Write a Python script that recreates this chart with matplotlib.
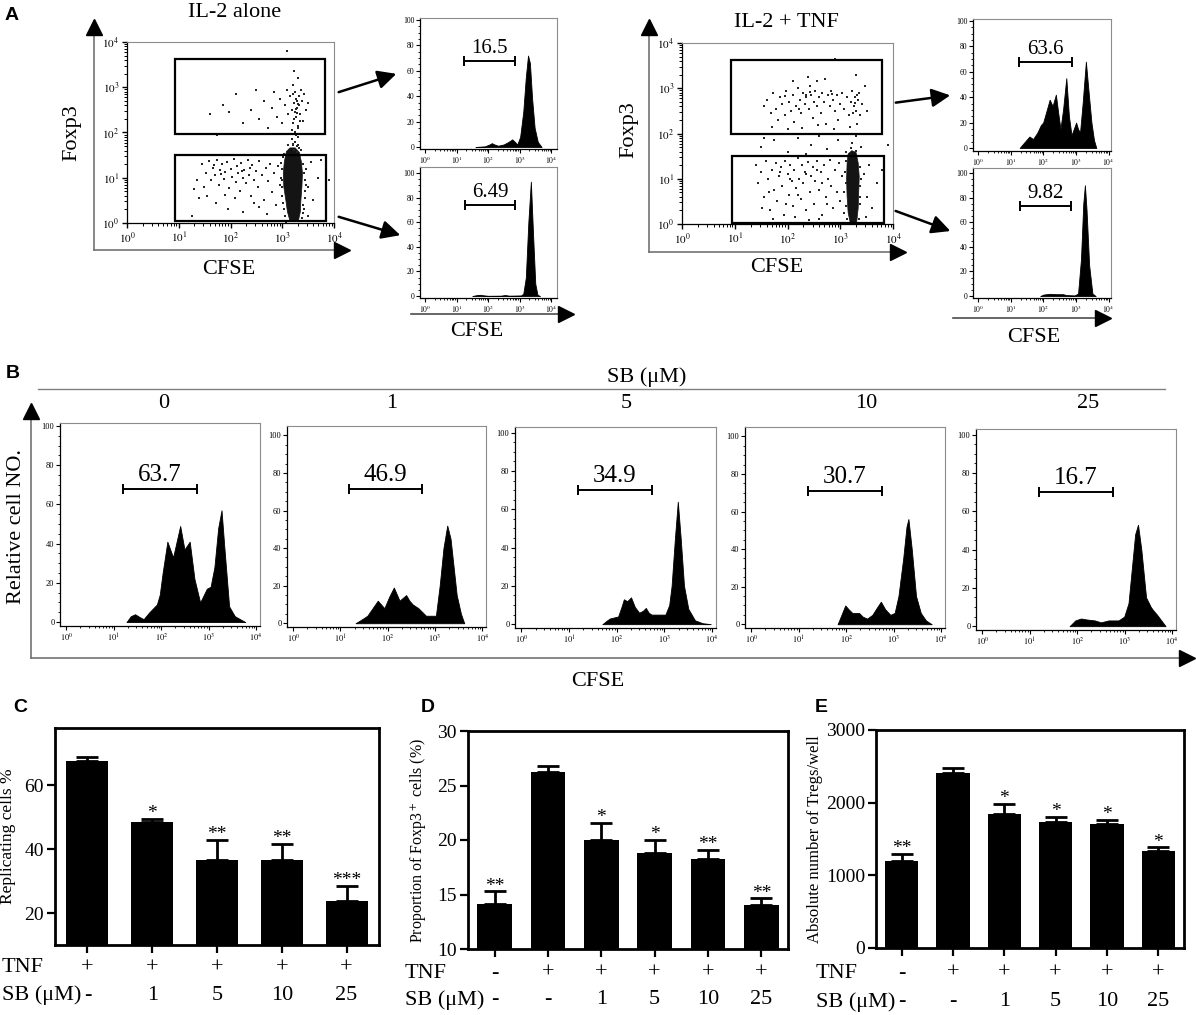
import numpy as np
import matplotlib.pyplot as plt
from matplotlib import transforms
from matplotlib.patches import Rectangle

plt.rcParams['font.family'] = ['Liberation Serif', 'DejaVu Serif']
plt.rcParams['mathtext.fontset'] = 'stix'

# ---------------- data ----------------
# panel A, scatter plots (log10 CFSE, log10 Foxp3)
gates_left = [(0.93, 3.83, 1.96, 3.62), (0.93, 3.85, 0.04, 1.50)]
gates_right = [(0.93, 3.80, 1.98, 3.63), (0.95, 3.82, 0.03, 1.50)]

dense_left = [(3.08, 1.58), (3.15, 1.66), (3.25, 1.66), (3.33, 1.56), (3.37, 1.35), (3.39, 1.10),
              (3.38, 0.80), (3.36, 0.50), (3.35, 0.25), (3.31, 0.04), (3.15, 0.04), (3.10, 0.25),
              (3.07, 0.50), (3.03, 0.80), (3.02, 1.10), (3.04, 1.35)]
dense_right = [(3.15, 1.55), (3.22, 1.62), (3.30, 1.58), (3.34, 1.35), (3.36, 1.05), (3.35, 0.70),
               (3.34, 0.35), (3.31, 0.03), (3.19, 0.02), (3.15, 0.25), (3.13, 0.60), (3.12, 1.00),
               (3.13, 1.35)]

dots_left = [
    (1.86, 2.60), (1.98, 2.45), (2.10, 2.85), (2.25, 2.20), (2.40, 2.50), (2.50, 2.95), (2.55, 2.30),
    (2.65, 2.70), (2.72, 2.10), (2.80, 2.55), (2.85, 2.90), (2.90, 2.35), (2.95, 2.75), (3.00, 2.20),
    (3.05, 2.60), (3.10, 2.95), (3.12, 2.40), (3.15, 2.80), (3.18, 2.50), (3.20, 2.20), (3.20, 3.05),
    (3.22, 2.65), (3.24, 2.45), (3.25, 2.90), (3.26, 2.35), (3.28, 2.70), (3.28, 2.55), (3.30, 2.15),
    (3.30, 3.20), (3.32, 2.80), (3.33, 2.60), (3.35, 2.40), (3.36, 2.95), (3.38, 2.70), (3.40, 2.25),
    (3.42, 2.85), (3.45, 2.50), (3.50, 2.65), (3.18, 2.05), (3.25, 2.00), (3.30, 2.10), (3.22, 3.35),
    (3.27, 2.52), (3.31, 2.62), (3.26, 2.75), (3.23, 2.30), (3.29, 2.42), (3.21, 2.85), (3.34, 2.25),
    (3.22, 1.62), (3.28, 1.70), (3.25, 1.80), (3.30, 1.90), (3.20, 1.75), (3.26, 1.95), (3.32, 1.65),
    (3.18, 1.85), (3.29, 1.58), (3.10, 3.80), (1.74, 1.94), (1.60, 2.40),
    (1.45, 1.30), (1.52, 1.10), (1.58, 1.38), (1.62, 0.95), (1.66, 1.22), (1.70, 1.05), (1.74, 1.40),
    (1.78, 0.85), (1.80, 1.18), (1.84, 1.30), (1.88, 0.98), (1.90, 1.12), (1.94, 1.35), (1.97, 0.78),
    (2.00, 1.20), (2.03, 1.02), (2.06, 1.42), (2.10, 0.90), (2.12, 1.25), (2.15, 1.10), (2.18, 0.70),
    (2.20, 1.33), (2.24, 1.00), (2.27, 1.18), (2.30, 0.88), (2.33, 1.40), (2.36, 1.07), (2.40, 0.60),
    (2.42, 1.28), (2.46, 0.95), (2.50, 1.15), (2.53, 0.80), (2.56, 1.36), (2.60, 1.05), (2.64, 0.50),
    (2.68, 1.22), (2.72, 0.92), (2.76, 1.30), (2.80, 0.68), (2.84, 1.10), (2.88, 0.40), (2.92, 1.25),
    (2.95, 0.85), (2.98, 1.00), (1.30, 0.75), (1.40, 0.55), (1.55, 0.60), (1.72, 0.45), (1.95, 0.30),
    (2.25, 0.25), (2.55, 0.35), (1.35, 0.95), (1.48, 0.80), (2.08, 0.55), (2.70, 0.20), (1.25, 0.15),
    (1.90, 0.62), (2.45, 0.45), (1.68, 1.28), (1.82, 1.08), (2.22, 1.15), (2.38, 1.22),
    (3.45, 1.20), (3.50, 0.80), (3.55, 1.35), (3.60, 0.50), (3.70, 1.00), (3.75, 1.40), (3.42, 0.30),
    (3.50, 0.15), (3.90, 0.95),
    (2.99, 1.20), (3.00, 0.80), (3.02, 0.45), (3.01, 1.45), (3.06, 0.15), (3.42, 1.10), (3.43, 0.70),
    (3.41, 0.40), (3.40, 1.50), (3.38, 0.10), (3.12, 1.72), (3.30, 1.72), (2.97, 1.00), (3.44, 0.95),
    (2.99, 0.60), (3.41, 1.30), (3.08, 0.02), (3.36, 1.62), (2.98, 1.32), (3.00, 0.95), (3.44, 0.55),
    (3.45, 0.85), (3.03, 0.30), (3.40, 0.22), (3.20, 1.72), (3.04, 1.52)]

dots_right = [
    (1.55, 2.60), (1.62, 2.75), (1.68, 2.45), (1.72, 2.90), (1.78, 2.55), (1.82, 2.30), (1.86, 2.80),
    (1.90, 2.65), (1.95, 2.40), (1.98, 2.95), (2.02, 2.70), (2.06, 2.50), (2.10, 2.85), (2.13, 2.25),
    (2.16, 2.60), (2.20, 3.00), (2.23, 2.75), (2.26, 2.45), (2.30, 2.90), (2.33, 2.65), (2.36, 2.80),
    (2.40, 2.55), (2.42, 3.05), (2.45, 2.85), (2.48, 2.35), (2.50, 2.70), (2.53, 2.95), (2.56, 2.60),
    (2.60, 2.80), (2.63, 2.45), (2.66, 2.90), (2.70, 2.70), (2.73, 2.20), (2.76, 2.85), (2.80, 2.60),
    (2.83, 2.95), (2.86, 2.75), (2.90, 2.50), (2.93, 2.85), (2.96, 2.30), (3.00, 2.65), (3.04, 2.90),
    (3.08, 2.55), (3.12, 2.80), (3.16, 2.40), (3.20, 2.70), (3.23, 2.95), (3.26, 2.60), (3.28, 2.80),
    (3.30, 2.50), (3.32, 2.20), (3.34, 2.75), (3.36, 2.90), (3.38, 2.40), (3.42, 2.65), (3.46, 3.05),
    (3.50, 2.50), (1.70, 2.15), (2.00, 2.10), (2.28, 2.12), (2.58, 2.18), (2.88, 2.10), (3.18, 2.15),
    (2.38, 3.25), (2.72, 3.20), (3.30, 3.30), (2.10, 3.15), (2.55, 3.15), (2.90, 3.65), (2.35, 2.85),
    (2.42, 2.92), (2.85, 2.88), (3.28, 2.68), (3.31, 2.85), (3.25, 2.45), (1.95, 2.82), (2.22, 2.55),
    (1.50, 1.70), (1.75, 1.85), (2.00, 1.60), (2.20, 1.90), (2.45, 1.75), (2.60, 1.95), (2.75, 1.65),
    (2.95, 1.85), (3.10, 1.60), (3.22, 1.80), (3.30, 1.95), (3.40, 1.70), (3.90, 1.75), (2.35, 1.55),
    (1.55, 1.90),
    (1.40, 1.30), (1.45, 0.90), (1.50, 1.15), (1.55, 0.60), (1.60, 1.40), (1.63, 1.00), (1.67, 0.30),
    (1.70, 1.20), (1.74, 0.75), (1.78, 1.35), (1.80, 0.50), (1.84, 1.05), (1.87, 1.25), (1.90, 0.85),
    (1.93, 0.20), (1.96, 1.40), (2.00, 1.10), (2.02, 0.65), (2.05, 1.30), (2.08, 0.95), (2.10, 0.40),
    (2.13, 1.20), (2.16, 0.80), (2.19, 1.45), (2.22, 1.00), (2.25, 0.55), (2.28, 1.30), (2.30, 0.90),
    (2.33, 1.15), (2.36, 0.30), (2.39, 1.38), (2.42, 0.70), (2.45, 1.05), (2.48, 1.25), (2.50, 0.45),
    (2.53, 0.95), (2.56, 1.40), (2.60, 0.75), (2.63, 1.15), (2.66, 0.20), (2.70, 1.30), (2.73, 0.60),
    (2.76, 1.00), (2.80, 1.42), (2.83, 0.85), (2.86, 0.35), (2.90, 1.20), (2.93, 0.70), (2.97, 1.35),
    (3.00, 0.50), (3.04, 1.05), (3.08, 0.25), (1.52, 0.35), (1.72, 0.12), (2.15, 0.15), (2.60, 0.10),
    (1.98, 0.45), (2.40, 0.08), (1.65, 0.70), (2.20, 0.65), (2.75, 0.45), (2.05, 1.00), (2.35, 1.10),
    (2.65, 0.90), (1.85, 1.15), (2.55, 1.20),
    (3.45, 1.10), (3.50, 0.60), (3.55, 1.30), (3.60, 0.35), (3.70, 0.90), (3.80, 1.20), (3.48, 0.15),
    (3.10, 1.40), (3.10, 0.90), (3.11, 0.40), (3.12, 0.10), (3.37, 1.25), (3.38, 0.85), (3.37, 0.45),
    (3.36, 0.12), (3.20, 1.68), (3.30, 1.62), (3.09, 1.15), (3.39, 1.00), (3.08, 0.70), (3.38, 0.60)]

# panel A, CFSE histograms
a_ul_x = [1.60, 1.90, 2.05, 2.12, 2.20, 2.32, 2.50, 2.65, 2.77, 2.85, 2.93, 3.02, 3.12, 3.20, 3.27,
          3.33, 3.40, 3.48, 3.58, 3.70]
a_ul_y = [0, 0.5, 2, 3, 2, 1, 2, 4, 6, 4, 2, 8, 28, 55, 72, 66, 38, 15, 4, 0]
a_ll_x = [1.50, 1.65, 1.75, 1.85, 2.00, 2.40, 2.54, 2.68, 3.05, 3.12, 3.20, 3.28, 3.36, 3.43, 3.50, 3.57, 3.65]
a_ll_y = [0, 0.8, 1, 0.6, 0.2, 0.3, 0.8, 0.3, 0.5, 2, 15, 60, 93, 50, 10, 1, 0]
a_ur_x = [1.27, 1.40, 1.57, 1.68, 1.81, 1.92, 1.99, 2.08, 2.19, 2.28, 2.38, 2.45, 2.52, 2.60, 2.70,
          2.78, 2.86, 2.93, 3.00, 3.06, 3.12, 3.20, 3.30, 3.38, 3.47, 3.55, 3.62]
a_ur_y = [0, 4, 9, 7, 12, 18, 20, 28, 38, 33, 42, 28, 15, 30, 55, 25, 10, 15, 20, 15, 12, 35, 68, 45,
          20, 6, 0]
a_lr_x = [1.90, 2.00, 2.20, 2.40, 2.60, 2.70, 2.95, 3.06, 3.15, 3.22, 3.27, 3.32, 3.40, 3.50, 3.60]
a_lr_y = [0, 1.2, 1.8, 1.5, 1.5, 0.8, 0.5, 2, 30, 75, 90, 70, 25, 2, 0]
a_gate_vals = ['16.5', '6.49', '63.6', '9.82']
a_gates = [(1.25, 2.87, 68), (1.27, 2.86, 74), (1.24, 2.86, 68), (1.27, 2.84, 73)]

# panel B, SB doses
sb_doses = ['0', '1', '5', '10', '25']
b_x = [
    [1.27, 1.36, 1.45, 1.55, 1.63, 1.75, 1.83, 1.91, 1.97, 2.03, 2.13, 2.25, 2.40, 2.49, 2.60, 2.70,
     2.82, 2.90, 2.96, 3.04, 3.12, 3.20, 3.27, 3.33, 3.43, 3.55, 3.77],
    [1.32, 1.45, 1.57, 1.68, 1.79, 1.86, 1.93, 2.03, 2.13, 2.20, 2.25, 2.39, 2.46, 2.53, 2.65, 2.73,
     2.81, 2.95, 3.02, 3.10, 3.18, 3.26, 3.33, 3.46, 3.55, 3.62],
    [1.70, 1.80, 1.86, 2.03, 2.10, 2.15, 2.22, 2.30, 2.38, 2.47, 2.55, 2.61, 2.67, 2.73, 2.85, 3.02,
     3.10, 3.15, 3.22, 3.28, 3.34, 3.41, 3.50, 3.64, 3.80, 3.97],
    [1.82, 1.90, 1.98, 2.05, 2.13, 2.27, 2.35, 2.44, 2.55, 2.65, 2.73, 2.82, 2.93, 3.02, 3.10, 3.20,
     3.27, 3.31, 3.38, 3.47, 3.57, 3.68, 3.80],
    [1.84, 1.96, 2.08, 2.20, 2.37, 2.50, 2.66, 2.87, 2.99, 3.08, 3.15, 3.22, 3.28, 3.35, 3.45, 3.55,
     3.61, 3.68, 3.74, 3.86]]
b_y = [
    [0, 3, 4, 2.5, 1.5, 5, 7, 9, 14, 25, 41, 33, 49, 37, 41, 22, 10, 14, 17, 18, 28, 48, 57, 38, 8, 3, 0],
    [0, 2, 4, 8, 12, 10, 8, 14, 19, 15, 12, 15, 12, 10, 8, 6, 4, 4, 4, 20, 40, 52, 45, 15, 5, 0],
    [0, 2, 3, 4, 9, 13, 12, 14, 9, 6, 7, 8.5, 6, 5, 5, 5, 10, 20, 45, 64, 45, 20, 8, 2, 0.5, 0],
    [0, 5, 10, 8, 6, 6, 4, 3, 5, 9, 12, 8, 5, 6, 15, 35, 52, 56, 40, 15, 6, 2, 0],
    [0, 3, 4, 3.5, 3, 2, 3, 3, 5, 12, 30, 48, 53, 40, 15, 10, 8, 6, 4, 0]]
b_gate_vals = ['63.7', '46.9', '34.9', '30.7', '16.7']
b_gates = [(1.19, 2.76, 68), (1.18, 2.73, 71.5), (1.18, 2.73, 70), (1.20, 2.75, 71), (1.20, 2.75, 70)]

# panels C-E
c_vals = [67.6, 48.5, 36.5, 36.5, 23.9]
c_err = [1.4, 1.1, 6.5, 5.3, 4.6]
c_stars = ['', '*', '**', '**', '***']
c_tnf = ['+', '+', '+', '+', '+']
c_sb = ['-', '1', '5', '10', '25']

d_vals = [14.1, 26.2, 20.0, 18.8, 18.3, 14.0]
d_err = [1.2, 0.6, 1.6, 1.2, 0.8, 0.65]
d_stars = ['**', '', '*', '*', '**', '**']
e_vals = [1200, 2410, 1845, 1730, 1700, 1340]
e_err = [100, 70, 135, 75, 65, 45]
e_stars = ['**', '', '*', '*', '*', '*']
de_tnf = ['-', '+', '+', '+', '+', '+']
de_sb = ['-', '-', '1', '5', '10', '25']

# ---------------- figure ----------------
W, H = 1196, 1015
fig = plt.figure(figsize=(W / 100, H / 100), dpi=100)

ov = fig.add_axes([0, 0, 1, 1])
ov.set_xlim(0, W)
ov.set_ylim(H, 0)
ov.axis('off')


def px_axes(l, t, r, b):
    return fig.add_axes([l / W, 1 - b / H, (r - l) / W, (b - t) / H])


def log_ticks(ax, axis, fs):
    major = list(range(5))
    minor = [k + np.log10(m) for k in range(4) for m in range(2, 10)]
    labels = ['$10^{%d}$' % k for k in major]
    if axis == 'x':
        ax.set_xticks(major)
        ax.set_xticklabels(labels, fontsize=fs)
        ax.set_xticks(minor, minor=True)
    else:
        ax.set_yticks(major)
        ax.set_yticklabels(labels, fontsize=fs)
        ax.set_yticks(minor, minor=True)


def frame(ax):
    for s in ['top', 'right']:
        ax.spines[s].set_color('0.55')
        ax.spines[s].set_linewidth(0.8)
    for s in ['left', 'bottom']:
        ax.spines[s].set_linewidth(0.9)


def hist_axes(box, xs, ys, gate, label, xlim, ylim, gate_fs, tick_fs):
    ax = px_axes(*box)
    ax.fill_between(xs, ys, color='k', lw=0.6)
    ax.set_xlim(*xlim)
    ax.set_ylim(*ylim)
    x0, x1, gy = gate
    ax.errorbar((x0 + x1) / 2, gy, xerr=(x1 - x0) / 2, fmt='none', ecolor='k',
                elinewidth=1.4, capsize=3.5, capthick=1.4)
    ax.annotate(label, ((x0 + x1) / 2, gy), xytext=(0, 2), textcoords='offset points',
                ha='center', va='bottom', fontsize=gate_fs)
    log_ticks(ax, 'x', tick_fs)
    ax.set_yticks(range(0, 101, 20))
    ax.set_yticklabels([str(v) for v in range(0, 101, 20)], fontsize=tick_fs)
    ax.set_yticks(range(0, 101, 5), minor=True)
    ax.tick_params(length=3, width=0.8, pad=1)
    ax.tick_params(which='minor', length=1.5, width=0.6)
    frame(ax)
    return ax


def scatter_axes(box, dots, dense, gates):
    ax = px_axes(*box)
    ax.fill([p[0] for p in dense], [p[1] for p in dense], color='0.08', lw=0.5)
    ax.scatter([p[0] for p in dots], [p[1] for p in dots], s=2.2, c='0.15', lw=0, marker='s')
    for x0, x1, y0, y1 in gates:
        ax.add_patch(Rectangle((x0, y0), x1 - x0, y1 - y0, fill=False, lw=1.6, ec='k'))
    ax.set_xlim(0, 4)
    ax.set_ylim(0, 4)
    log_ticks(ax, 'x', 8)
    log_ticks(ax, 'y', 8)
    ax.tick_params(length=3.5, width=1, pad=2)
    ax.tick_params(which='minor', length=2, width=0.7)
    frame(ax)
    return ax


def l_axis(x0, y0, x_end, y_top):
    ov.plot([x0, x0], [y0, y_top], color='0.45', lw=1.2)
    ov.plot([x0, x_end], [y0, y0], color='0.45', lw=1.2)
    ov.plot(x0, y_top, marker='^', color='k', ms=12)
    ov.plot(x_end, y0, marker='>', color='k', ms=12)


def h_arrow(x0, x1, y):
    ov.plot([x0, x1], [y, y], color='0.3', lw=1.2)
    ov.plot(x1, y, marker='>', color='k', ms=12)


def gate_arrow(start, end):
    ov.annotate('', xy=end, xytext=start,
                arrowprops=dict(arrowstyle='-|>', color='k', lw=1.8, mutation_scale=28))


def bar_axes(box, vals, errs, stars, ylim, yticks, ylabel, lab_x, lab_fs, tnf, sb, rows):
    ax = px_axes(*box)
    x = np.arange(len(vals))
    ax.bar(x, vals, width=0.65, color='k')
    ax.errorbar(x, vals, yerr=[np.zeros(len(vals)), errs], fmt='none', ecolor='k',
                elinewidth=2, capsize=8, capthick=2)
    for xi, v, e, s in zip(x, vals, errs, stars):
        if s:
            ax.annotate(s, (xi, v + e), xytext=(0, 0.5), textcoords='offset points',
                        ha='center', va='baseline', fontsize=14)
    ax.set_xlim(-0.5, len(vals) - 0.5)
    ax.set_ylim(*ylim)
    ax.set_xticks(x)
    ax.set_xticklabels([])
    ax.set_yticks(yticks)
    ax.set_yticklabels([str(v) for v in yticks], fontsize=14)
    ax.tick_params(length=6, width=1.6, pad=2)
    for s in ax.spines.values():
        s.set_linewidth(2)
    ax.set_ylabel(ylabel, fontsize=lab_fs)
    l, t, r, b = box
    ax.yaxis.set_label_coords((lab_x - l) / (r - l), 0.5)
    trans = transforms.blended_transform_factory(ax.transData, ov.transData)
    for xi, a, c in zip(x, tnf, sb):
        ax.text(xi, rows[1], a, transform=trans, ha='center', va='center', fontsize=16)
        ax.text(xi, rows[2], c, transform=trans, ha='center', va='center', fontsize=16)
    ov.text(rows[0], rows[1], 'TNF', ha='left', va='center', fontsize=16)
    ov.text(rows[0], rows[2], 'SB (\u03bcM)', ha='left', va='center', fontsize=16)
    return ax


# ---- panel A ----
ov.text(12, 15, 'A', fontsize=14, fontweight='bold', family='Liberation Sans', ha='center', va='center')
l_axis(94, 250, 342, 27)
scatter_axes((127, 42, 334, 223), dots_left, dense_left, gates_left)
ov.text(235, 12, 'IL-2 alone', fontsize=16, ha='center', va='center')
ov.text(72, 133, 'Foxp3', fontsize=16, rotation=90, ha='center', va='center')
ov.text(229, 270, 'CFSE', fontsize=16, ha='center', va='center')
gate_arrow((336, 93), (399, 73))
gate_arrow((336, 216), (403, 236))
hist_axes((420, 18, 557, 149), a_ul_x, a_ul_y, a_gates[0], a_gate_vals[0], (-0.16, 4.19), (-1.6, 101.6), 15, 5.5)
hist_axes((420, 167, 557, 298), a_ll_x, a_ll_y, a_gates[1], a_gate_vals[1], (-0.16, 4.19), (-1.6, 104.9), 15, 5.5)
h_arrow(411, 566, 314)
ov.text(477, 332, 'CFSE', fontsize=16, ha='center', va='center')

l_axis(649, 252, 898, 27)
scatter_axes((682, 43, 893, 224), dots_right, dense_right, gates_right)
ov.text(786, 22, 'IL-2 + TNF', fontsize=16, ha='center', va='center')
ov.text(629, 130, 'Foxp3', fontsize=16, rotation=90, ha='center', va='center')
ov.text(777, 268, 'CFSE', fontsize=16, ha='center', va='center')
gate_arrow((893, 103), (953, 95))
gate_arrow((893, 210), (953, 232))
hist_axes((973, 19, 1111, 151), a_ur_x, a_ur_y, a_gates[2], a_gate_vals[2], (-0.16, 4.07), (-2.4, 101.6), 15, 5.5)
hist_axes((973, 168, 1111, 298), a_lr_x, a_lr_y, a_gates[3], a_gate_vals[3], (-0.16, 4.07), (-1.6, 104), 15, 5.5)
h_arrow(953, 1103, 318)
ov.text(1034, 337, 'CFSE', fontsize=16, ha='center', va='center')

# ---- panel B ----
ov.text(13, 373, 'B', fontsize=14, fontweight='bold', family='Liberation Sans', ha='center', va='center')
ov.text(647, 377, 'SB (\u03bcM)', fontsize=16, ha='center', va='center')
ov.plot([38, 1165], [389, 389], color='0.5', lw=1)
l_axis(31, 658, 1187, 411)
ov.text(17, 527, 'Relative cell NO.', fontsize=16, rotation=90, ha='center', va='center')
ov.text(598, 681, 'CFSE', fontsize=16, ha='center', va='center')
b_boxes = [(60, 423, 260, 626), (287, 426, 486, 627), (515, 427, 716, 628),
           (745, 427, 945, 628), (976, 429, 1176, 630)]
b_tops = [101.5, 105, 103, 105, 103]
b_label_x = [164, 392, 626, 866, 1088]
for i in range(5):
    hist_axes(b_boxes[i], b_x[i], b_y[i], b_gates[i], b_gate_vals[i], (-0.13, 4.08),
              (-2, b_tops[i]), 18, 6)
    ov.text(b_label_x[i], 403, sb_doses[i], fontsize=16, ha='center', va='center')

# ---- panels C, D, E ----
ov.text(20, 708, 'C', fontsize=14, fontweight='bold', family='Liberation Sans', ha='center', va='center')
ov.text(428, 707, 'D', fontsize=14, fontweight='bold', family='Liberation Sans', ha='center', va='center')
ov.text(821, 707, 'E', fontsize=14, fontweight='bold', family='Liberation Sans', ha='center', va='center')

bar_axes((55, 728, 379, 945), c_vals, c_err, c_stars, (10, 78), [20, 40, 60],
         'Replicating cells %', 16, 12.5, c_tnf, c_sb, (2, 968, 995))
bar_axes((468, 731, 788, 949), d_vals, d_err, d_stars, (10, 30), [10, 15, 20, 25, 30],
         'Proportion of Foxp3$^+$ cells (%)', 428, 11.5, de_tnf, de_sb, (405, 973, 1000))
bar_axes((876, 730, 1184, 948), e_vals, e_err, e_stars, (0, 3000), [0, 1000, 2000, 3000],
         'Absolute number of Tregs/well', 823, 12, de_tnf, de_sb, (816, 973, 1002))

fig.savefig('out.png', dpi=100)
